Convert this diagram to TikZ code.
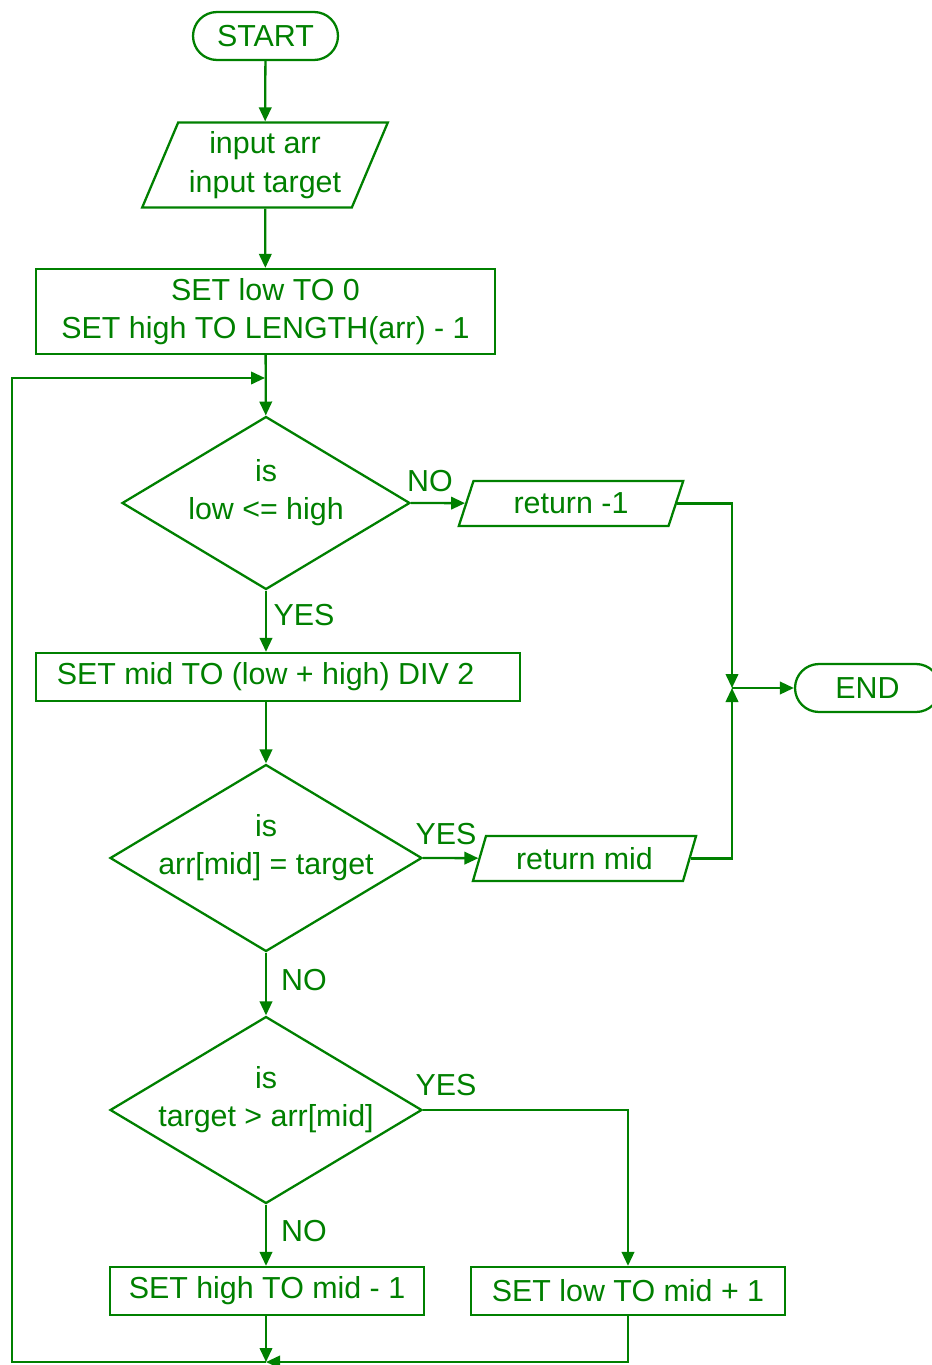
\documentclass[tikz,border=0pt]{standalone}
\usepackage{fontspec}
\setmainfont{Liberation Sans}
\usetikzlibrary{arrows.meta,shapes.geometric}
\definecolor{Leaf}{HTML}{008000}
\newcommand{\chartfont}{\fontsize{17.3}{22}\selectfont}
\tikzset{
  >={Triangle[length=2.8mm,width=2.5mm]},
  base/.style={draw=Leaf,line width=1.3pt,text=Leaf,font=\chartfont,align=center,inner sep=2pt},
  term/.style={base,rectangle,rounded corners=4.8mm,minimum width=29mm,minimum height=9.6mm},
  io/.style={base,trapezium,trapezium stretches=true},
  proc/.style={base,rectangle},
  decision/.style={base,diamond},
  qtext/.style={text=Leaf,font=\chartfont,align=center,yshift=2.1mm},
  yn/.style={text=Leaf,font=\chartfont,inner sep=0pt},
  flow/.style={->,draw=Leaf,line width=1.3pt},
  wire/.style={draw=Leaf,line width=1.3pt}
}

\begin{document}
\begin{tikzpicture}[x=0.02cm,y=-0.02cm]
  \useasboundingbox (0,0) rectangle (932,1365);
  % main column
  \node[term] (start) at (265.5,36) {START};
  \node[io,trapezium left angle=66,trapezium right angle=114,minimum width=49.2mm,minimum height=17mm]
    (input) at (265,165) {input arr\\input target};
  \node[proc,minimum width=91.8mm,minimum height=17mm] (init) at (265.5,311.5) {SET low TO 0\\SET high TO LENGTH(arr) - 1};
  \node[decision,minimum width=57.6mm,minimum height=34.6mm,label={[qtext]center:{is\\low <= high}}] (test) at (266,503) {};
  \node[proc,minimum width=96.8mm,minimum height=9.6mm] (mid) at (278,677) {SET mid TO (low + high) DIV 2\hspace*{5mm}};
  \node[decision,minimum width=62.4mm,minimum height=37.4mm,label={[qtext]center:{is\\arr[mid] = target}}] (found) at (266,858) {};
  \node[decision,minimum width=62.4mm,minimum height=37.4mm,label={[qtext]center:{is\\target > arr[mid]}}] (greater) at (266,1110) {};
  \node[proc,minimum width=62.8mm,minimum height=9.6mm] (dechigh) at (267,1291) {SET high TO mid - 1};
  \node[proc,minimum width=62.8mm,minimum height=9.6mm] (inclow) at (628,1291) {SET low TO mid + 1};
  % right side
  \node[io,trapezium left angle=72,trapezium right angle=108,minimum width=45mm,minimum height=9mm]
    (retneg) at (571,503.5) {return -1};
  \node[io,trapezium left angle=72,trapezium right angle=108,minimum width=45mm,minimum height=9mm]
    (retmid) at (584.5,858.5) {return mid};
  \node[term] (stop) at (867.5,688) {END};

  \coordinate (loop) at (265,378);
  \coordinate (join) at (732,688);
  \coordinate (bot) at (266,1362);
  \coordinate (corner) at (12,1362);

  \draw[flow] (start) -- (input);
  \draw[flow] (input) -- (init);
  \draw[flow] (init) -- (test);
  \draw[flow] (test.south) -- (test.south |- mid.north);
  \draw[flow] (mid.south -| test.south) -- (found);
  \draw[flow] (found) -- (greater);
  \draw[flow] (greater) -- (dechigh.north -| greater.south);
  \draw[flow] (greater.east) -| (inclow.north);
  \draw[flow] (test.east) -- (retneg);
  \draw[flow] (found.east) -- (retmid);
  \draw[flow] (retneg.east) -| (join);
  \draw[flow] (retmid.east) -| (join);
  \draw[flow] (join) -- (stop.west);
  \draw[flow] (dechigh.south -| bot) -- (bot);
  \draw[flow] (inclow.south) |- (bot);
  \draw[flow] (bot) -- (corner) |- (loop);

  \node[yn] at (430,481) {NO};
  \node[yn] at (304,615) {YES};
  \node[yn] at (446,834) {YES};
  \node[yn] at (304,980) {NO};
  \node[yn] at (446,1085) {YES};
  \node[yn] at (304,1231) {NO};
\end{tikzpicture}
\end{document}
